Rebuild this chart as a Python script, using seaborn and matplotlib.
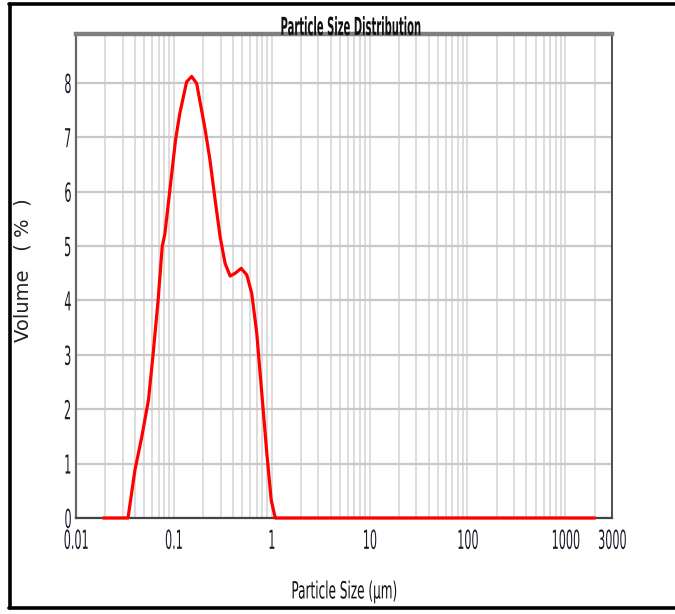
import matplotlib
matplotlib.use("Agg")
import matplotlib.pyplot as plt
import matplotlib.patheffects as pe
import seaborn as sns
import pandas as pd
import numpy as np
from matplotlib.lines import Line2D
from matplotlib.transforms import Affine2D
from matplotlib.ticker import FixedLocator, LogLocator, NullFormatter

# ---- data ----
size_um = [0.019, 0.034, 0.040, 0.047, 0.055, 0.0615, 0.069, 0.076, 0.081, 0.091,
           0.104, 0.115, 0.135, 0.152, 0.171, 0.192, 0.208, 0.234, 0.264, 0.297,
           0.334, 0.376, 0.423, 0.487, 0.556, 0.625, 0.703, 0.792, 0.891, 0.988,
           1.086, 2000]
volume_pct = [0.0, 0.0, 0.88, 1.49, 2.17, 3.03, 4.0, 4.99, 5.23, 6.03,
              6.95, 7.44, 8.02, 8.12, 7.99, 7.5, 7.16, 6.58, 5.85, 5.17,
              4.68, 4.45, 4.5, 4.59, 4.47, 4.13, 3.40, 2.29, 1.19, 0.33,
              0.0, 0.0]
x_ticks = [0.01, 0.1, 1, 10, 100, 1000, 3000]
x_tick_labels = ["0.01", "0.1", "1", "10", "100", "1000", "3000"]
y_ticks = [0, 1, 2, 3, 4, 5, 6, 7, 8]
title = "Particle Size Distribution"
x_label = "Particle Size (µm)"
y_label = "Volume   ( %  )"

df = pd.DataFrame({"size": size_um, "volume": volume_pct})


class Squeeze(pe.AbstractPathEffect):
    """Draw text glyphs condensed (the reference uses a narrow font)."""

    def __init__(self, sx, sy=1.0, anchor="center"):
        super().__init__()
        self.sx = sx
        self.sy = sy
        self.anchor = anchor

    def draw_path(self, renderer, gc, tpath, affine, rgbFace=None):
        ext = tpath.get_extents(affine)
        if self.anchor == "right":
            cx = ext.x1
        elif self.anchor == "left":
            cx = ext.x0
        else:
            cx = 0.5 * (ext.x0 + ext.x1)
        cy = 0.5 * (ext.y0 + ext.y1)
        t = affine + Affine2D().translate(-cx, -cy).scale(self.sx, self.sy).translate(cx, cy)
        renderer.draw_path(gc, tpath, t, rgbFace)


sns.set_style("white")
plt.rcParams["font.family"] = ["DejaVu Sans"]

W, H = 675, 614
fig = plt.figure(figsize=(W / 100, H / 100), dpi=100)
ax = fig.add_axes([76 / W, 1 - 518 / H, (612 - 76) / W, (518 - 34) / H])

ax.set_xscale("log")
ax.set_xlim(0.01, 3000)
ax.set_ylim(0, 8.9)

ax.xaxis.set_major_locator(FixedLocator(x_ticks))
ax.xaxis.set_minor_locator(LogLocator(base=10, subs=np.arange(2, 10)))
ax.xaxis.set_minor_formatter(NullFormatter())
ax.set_xticks(x_ticks)
ax.set_xticklabels(x_tick_labels)
ax.set_yticks(y_ticks)
ax.grid(True, axis="y", which="major", color="#c8c8c8", linewidth=1.6)
ax.grid(True, axis="x", which="both", color="#dadada", linewidth=1.3)
ax.set_axisbelow(True)

sns.lineplot(data=df, x="size", y="volume", ax=ax, color="#ff0000",
             linewidth=2.3, sort=False, estimator=None, zorder=5, clip_on=False)

ax.tick_params(axis="both", which="both", length=0, labelsize=13,
               colors="#1a1a2a")
ax.tick_params(axis="x", pad=10)
ax.tick_params(axis="y", pad=3)

ax.spines["top"].set_color("#7f7f7f")
ax.spines["top"].set_linewidth(3.2)
ax.spines["left"].set_color("#666666")
ax.spines["left"].set_linewidth(1.6)
ax.spines["right"].set_color("#333333")
ax.spines["right"].set_linewidth(1.2)
ax.spines["bottom"].set_color("#444444")
ax.spines["bottom"].set_linewidth(1.6)

t = ax.set_title(title, fontsize=16, fontweight="bold", pad=0,
                 color="#111111", x=0.513)
t.set_path_effects([Squeeze(0.45, 1.12)])
xl = ax.set_xlabel(x_label, fontsize=15.5, labelpad=23, color="#111111")
xl.set_path_effects([Squeeze(0.56, 1.1)])
ax.set_ylabel(y_label, fontsize=14, color="#222222")
ax.yaxis.set_label_coords(-(76 - 33) / 536, (518 - 270) / 484)

fig.canvas.draw()
for lbl in ax.get_xticklabels():
    lbl.set_path_effects([Squeeze(0.62, 1.45)])
for lbl in ax.get_yticklabels():
    lbl.set_path_effects([Squeeze(0.62, 1.45, anchor="right")])

# outer frame of the screenshot
def fx(px):
    return px / W

def fy(py):
    return 1 - py / H

fig.add_artist(Line2D([fx(9), fx(680)], [fy(4), fy(4)], color="black", lw=2.6))
fig.add_artist(Line2D([fx(10), fx(10)], [fy(4), fy(608)], color="black", lw=2.6))
fig.add_artist(Line2D([fx(9), fx(680)], [fy(608), fy(608)], color="black", lw=2.6))

fig.savefig("out.png", dpi=100, facecolor="white")
